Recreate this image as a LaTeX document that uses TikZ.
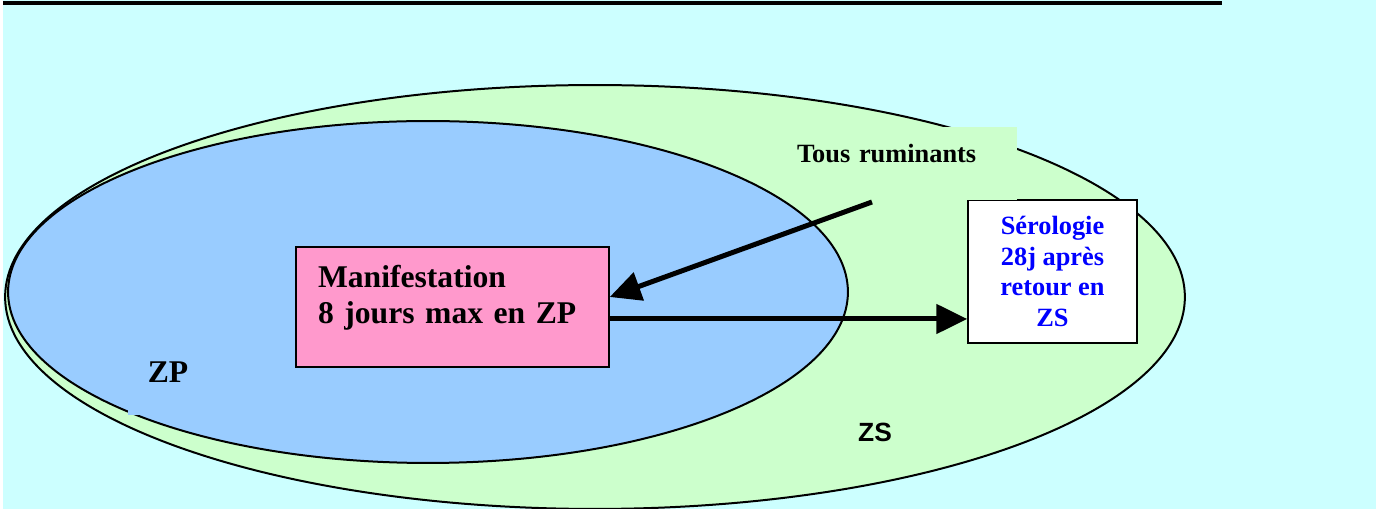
\documentclass[tikz,border=0pt]{standalone}
\usepackage{fontspec}
\setmainfont{Liberation Serif}
\newfontfamily\zsfont{Liberation Sans}
\usepackage{tikz}
\usetikzlibrary{arrows.meta}
\definecolor{skyback}{HTML}{CCFFFF}
\definecolor{zsgreen}{HTML}{CCFFCC}
\definecolor{zpblue}{HTML}{99CCFF}
\definecolor{manifpink}{HTML}{FF99CC}
\definecolor{serotext}{HTML}{0000FF}

\begin{document}
\begin{tikzpicture}[x=0.02cm, y=-0.02cm, >={Triangle[length=0.62cm, width=0.58cm]},
    zone/.style = {draw, line width=0.04cm},
    box/.style = {draw, line width=0.03cm},
    big/.style = {->, line width=0.1cm}]
    \useasboundingbox (0,0) rectangle (1376,509);
    % Background
    \fill[white] (0,0) rectangle (1376,509);
    \fill[skyback] (3,0) rectangle (1376,509);
    \fill[black] (3,1) rectangle (1222,5);

    % Zones
    \draw[zone, fill=zsgreen] (595,297) ellipse [x radius=11.8cm, y radius=4.24cm];
    \draw[zone, fill=zpblue] (428,292) ellipse [x radius=8.4cm, y radius=3.42cm];

    % Nodes
    \node[fill=zpblue, minimum width=1.6cm, minimum height=1.72cm,
        font=\bfseries\fontsize{18}{20}\selectfont] (zp) at (168,372) {ZP};
    \node[font=\zsfont\bfseries\fontsize{15}{18}\selectfont] (zs) at (875,432) {ZS};

    \node[box, fill=manifpink, minimum height=2.4cm, text width=5.38cm, inner xsep=0.44cm,
        align=left, font=\bfseries\fontsize{18}{20.4}\selectfont] (manif) at (452.5,307)
        {Manifestation\\8 jours max en ZP\rule[-0.52cm]{0pt}{0pt}};

    \node[box, fill=white, text=serotext, minimum width=3.38cm, minimum height=2.86cm,
        align=center, font=\bfseries\fontsize{15}{17.4}\selectfont] (sero) at (1052.5,271.5)
        {Sérologie\\28j après\\retour en\\ZS};

    \node[fill=zsgreen, minimum height=1.46cm, text width=4.26cm, inner xsep=0.14cm,
        align=left, font=\bfseries\fontsize{15}{17.4}\selectfont] (tous) at (903.5,163.5)
        {Tous ruminants\rule[-0.41cm]{0pt}{0pt}};

    % Edges
    \coordinate (tousfoot) at (872,202);
    \coordinate (manifup) at ([yshift=0.2cm]manif.east);
    \coordinate (manifdown) at ([yshift=-0.24cm]manif.east);

    \draw[big] (tousfoot) -- (manifup);
    \draw[big] (manifdown) -- (manifdown -| sero.west);

\end{tikzpicture}
\end{document}
